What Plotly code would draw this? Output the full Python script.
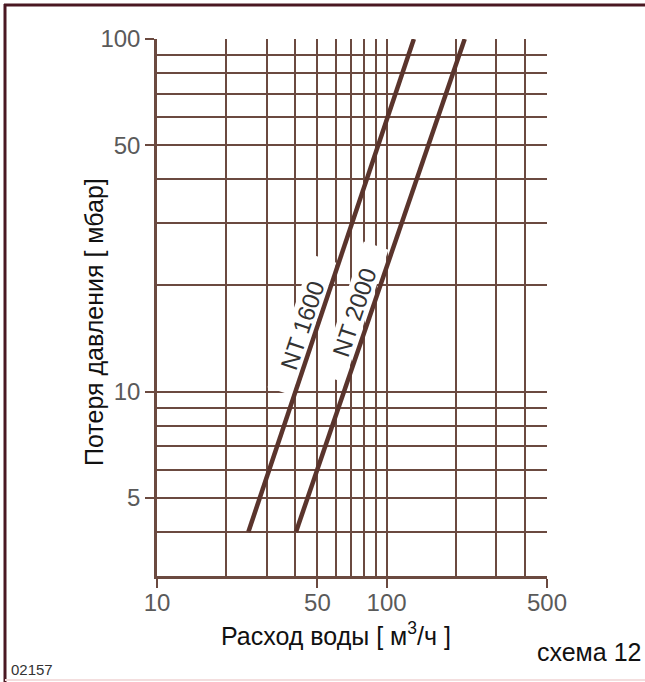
import math
import plotly.graph_objects as go

# ---- data ----
flow_nt1600 = [25.0, 131.5]
dp_nt1600 = [4, 100]
flow_nt2000 = [40.3, 219.0]
dp_nt2000 = [4, 100]

x_tick_vals = [10, 50, 100, 500]
x_tick_text = ["10", "50", "100", "500"]
x_minor_vals = [20, 30, 40, 60, 70, 80, 90, 200, 300, 400]
y_tick_vals = [5, 10, 50, 100]
y_tick_text = ["5", "10", "50", "100"]
y_minor_vals = [4, 6, 7, 8, 9, 20, 30, 40, 60, 70, 80, 90]

x_title = "Расход воды [ м<sup>3</sup>/ч ]"
y_title = "Потеря давления [ мбар]"
label_1600 = "NT 1600"
label_2000 = "NT 2000"

W, H = 645, 682
L, R, T, B = 157, 98, 39, 106
PW, PH = W - L - R, H - T - B
XR = [1, 2.69897]
YR = [math.log10(3), 2.0]

def px(x):
    return (x - L) / PW

def py(y):
    return (H - B - y) / PH

def to_data(X, Y):
    lx = XR[0] + (X - L) / PW * (XR[1] - XR[0])
    ly = YR[1] - (Y - T) / PH * (YR[1] - YR[0])
    return 10 ** lx, 10 ** ly

GRID = "#6b4a40"
CURVE = "#5a342c"
FONT = "Liberation Sans"

ANG = 71.6  # degrees, slope of the curves on screen
LABEL_FONT = 24
lab1 = (302, 325)
lab2 = (354, 312)

def label_box_trace(cx, cy, length, width):
    a = math.radians(ANG)
    ux, uy = math.cos(a), -math.sin(a)
    vx, vy = math.sin(a), math.cos(a)
    xs, ys = [], []
    for s, t in [(-1, -1), (1, -1), (1, 1), (-1, 1), (-1, -1)]:
        X = cx + s * ux * length / 2 + t * vx * width / 2
        Y = cy + s * uy * length / 2 + t * vy * width / 2
        dx, dy = to_data(X, Y)
        xs.append(dx)
        ys.append(dy)
    return go.Scatter(x=xs, y=ys, mode="lines", fill="toself", fillcolor="white",
                      line=dict(width=0, color="white"), showlegend=False, hoverinfo="skip")

fig = go.Figure()
fig.add_trace(label_box_trace(lab1[0], lab1[1], 140, 26))
fig.add_trace(label_box_trace(lab2[0], lab2[1], 140, 26))
fig.add_trace(go.Scatter(x=flow_nt1600, y=dp_nt1600, mode="lines",
                         line=dict(color=CURVE, width=4.5), showlegend=False, hoverinfo="skip"))
fig.add_trace(go.Scatter(x=flow_nt2000, y=dp_nt2000, mode="lines",
                         line=dict(color=CURVE, width=4.5), showlegend=False, hoverinfo="skip"))

axis_common = dict(
    showgrid=True, gridcolor=GRID, gridwidth=2,
    showline=True, linecolor=GRID, linewidth=2.5,
    ticks="outside", ticklen=9, tickwidth=2, tickcolor=GRID,
    tickfont=dict(family=FONT, size=24, color="#5a5a5a"),
    zeroline=False,
)

fig.update_xaxes(type="log", range=XR, tickvals=x_tick_vals, ticktext=x_tick_text,
                 ticklabelstandoff=-6,
                 minor=dict(tickvals=x_minor_vals, showgrid=True, gridcolor=GRID, gridwidth=2, ticks=""),
                 **axis_common)
fig.update_yaxes(type="log", range=YR, tickvals=y_tick_vals, ticktext=y_tick_text,
                 minor=dict(tickvals=y_minor_vals, showgrid=True, gridcolor=GRID, gridwidth=2, ticks=""),
                 **axis_common)

annotations = [
    dict(text=x_title, x=px(336), y=py(634), xref="paper", yref="paper", showarrow=False,
         font=dict(family=FONT, size=25, color="#111111"), xanchor="center", yanchor="middle"),
    dict(text=y_title, x=px(94), y=py(322), xref="paper", yref="paper", showarrow=False,
         textangle=-90, font=dict(family=FONT, size=25, color="#111111"), xanchor="center", yanchor="middle"),
    dict(text=label_1600, x=px(lab1[0]), y=py(lab1[1]), xref="paper", yref="paper", showarrow=False,
         textangle=-ANG, font=dict(family=FONT, size=LABEL_FONT, color="#333333"),
         xanchor="center", yanchor="middle"),
    dict(text=label_2000, x=px(lab2[0]), y=py(lab2[1]), xref="paper", yref="paper", showarrow=False,
         textangle=-ANG, font=dict(family=FONT, size=LABEL_FONT, color="#333333"),
         xanchor="center", yanchor="middle"),
    dict(text="02157", x=px(9), y=py(669), xref="paper", yref="paper", showarrow=False,
         font=dict(family=FONT, size=15, color="#333333"), xanchor="left", yanchor="middle"),
    dict(text="схема 12", x=px(643), y=py(652), xref="paper", yref="paper", showarrow=False,
         font=dict(family=FONT, size=25, color="#111111"), xanchor="right", yanchor="middle"),
]

shapes = [
    dict(type="line", xref="paper", yref="paper", x0=px(5), x1=px(5), y0=py(4), y1=py(682),
         line=dict(color="#4a1822", width=3)),
    dict(type="line", xref="paper", yref="paper", x0=px(4), x1=px(645), y0=py(5), y1=py(5),
         line=dict(color="#4a1822", width=3)),
    dict(type="line", xref="paper", yref="paper", x0=px(5), x1=px(645), y0=py(680), y1=py(680),
         line=dict(color="#f3dede", width=2)),
]

fig.update_layout(
    width=W, height=H,
    margin=dict(l=L, r=R, t=T, b=B),
    paper_bgcolor="white", plot_bgcolor="white",
    annotations=annotations, shapes=shapes,
    showlegend=False,
)

fig.write_html("out.html", config={"displayModeBar": False},
               post_script="document.body.style.margin='0px';document.body.style.padding='0px';")
